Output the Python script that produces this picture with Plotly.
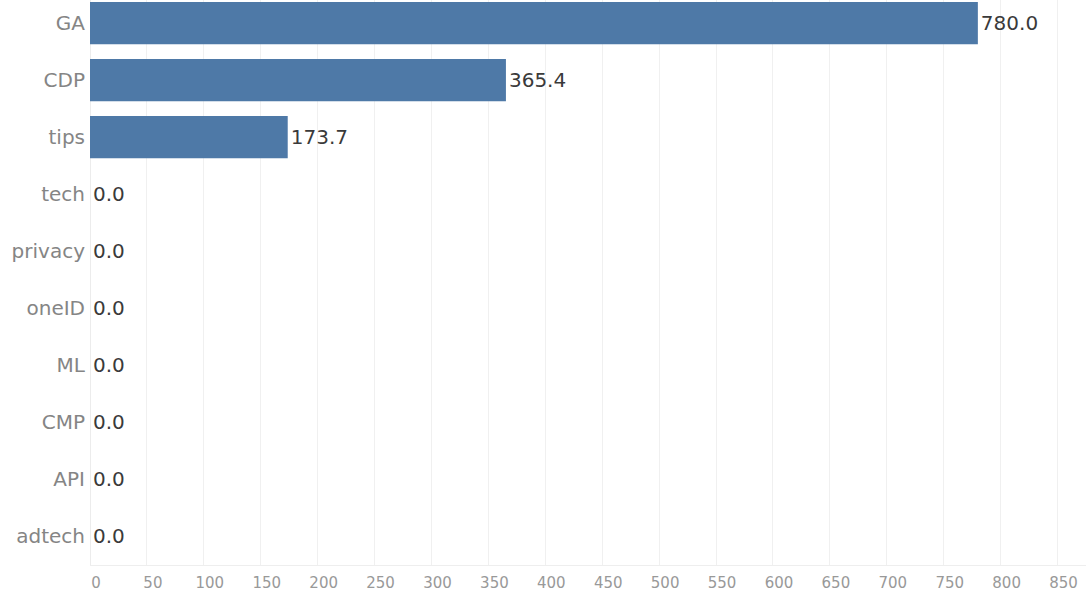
import plotly.graph_objects as go

categories = ["GA", "CDP", "tips", "tech", "privacy", "oneID", "ML", "CMP", "API", "adtech"]
values = [780.0, 365.4, 173.7, 0.0, 0.0, 0.0, 0.0, 0.0, 0.0, 0.0]
x_ticks = list(range(0, 851, 50))

FONT = "DejaVu Sans"

fig = go.Figure(go.Bar(
    x=values,
    y=categories,
    orientation="h",
    marker=dict(color="#4e79a7", line=dict(width=0)),
    width=0.74,
    text=[f"{v:.1f}" for v in values],
    textposition="outside",
    textfont=dict(family=FONT, size=20, color="#3a3a3a"),
    constraintext="none",
    cliponaxis=False,
))

fig.update_layout(
    width=1086, height=599,
    margin=dict(l=90, r=0, t=0, b=34),
    plot_bgcolor="white", paper_bgcolor="white",
    showlegend=False,
    xaxis=dict(
        range=[0, 875],
        tickvals=x_ticks,
        ticktext=[str(t) for t in x_ticks],
        showgrid=True, gridcolor="#f0f0f0", gridwidth=1,
        zeroline=True, zerolinecolor="#ececec", zerolinewidth=1,
        showline=True, linecolor="#eeeeee", linewidth=1,
        tickfont=dict(family=FONT, size=15, color="#999999"),
        ticklabelshift=6,
        ticklabelstandoff=4,
        ticks="",
    ),
    yaxis=dict(
        categoryorder="array", categoryarray=categories,
        range=[9.5, -0.404],
        showgrid=False, zeroline=False, showline=False,
        tickfont=dict(family=FONT, size=20, color="#858585"),
        ticks="",
        ticklabelstandoff=4,
    ),
)

fig.write_html("out.html")
